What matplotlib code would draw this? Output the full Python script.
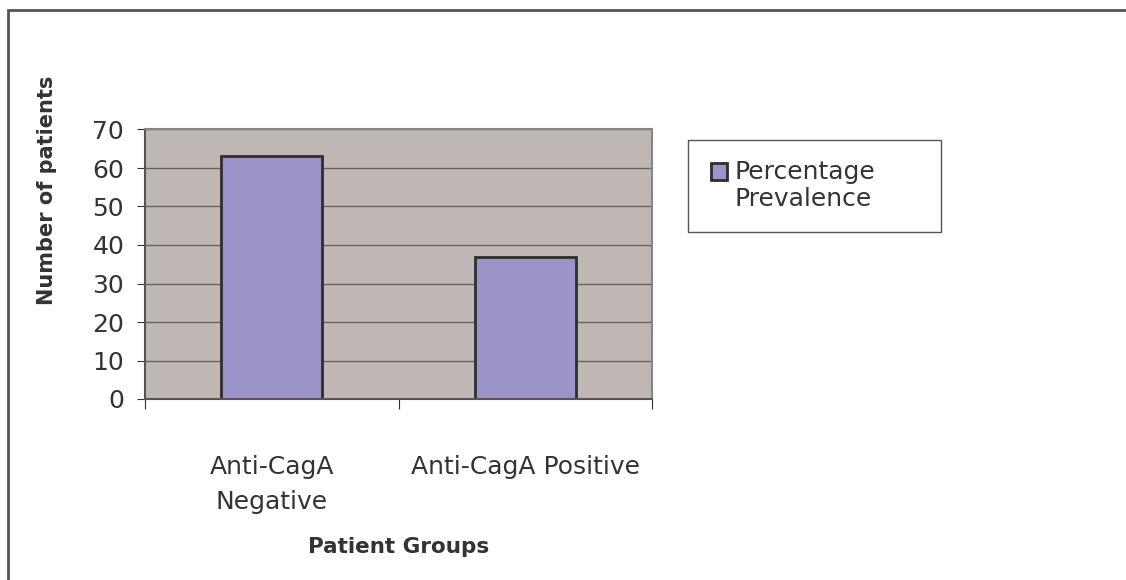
import matplotlib.pyplot as plt
from matplotlib.patches import Rectangle
from matplotlib.container import BarContainer
from matplotlib.legend_handler import HandlerPatch, update_from_first_child

categories = ['Anti-CagA\nNegative', 'Anti-CagA Positive']
prevalence = [63.2, 36.8]
series_name = 'Percentage\nPrevalence'
yticks = [0, 10, 20, 30, 40, 50, 60, 70]

plt.rcParams['font.family'] = 'DejaVu Sans'
W, H = 1126, 580


def first_line_patch(legend, orig_handle, xdescent, ydescent, width, height, fontsize):
    # keep the legend square next to the first line of a two-line label
    return Rectangle((-xdescent, -ydescent + 0.6 * fontsize), width, height)


fig = plt.figure(figsize=(W / 100, H / 100), dpi=100)
# outer chart border
fig.patches.append(Rectangle((8 / W, -0.1), 1.2, 1 - 10 / H + 0.1,
                             transform=fig.transFigure, fill=False,
                             edgecolor='#555555', linewidth=2))

ax = fig.add_axes([145 / W, 1 - 399 / H, (652 - 145) / W, (399 - 129.5) / H])
ax.set_facecolor('#C0B8B5')
ax.set_axisbelow(True)
ax.yaxis.grid(True, color='#6a6260', linewidth=1)

x = range(len(categories))
ax.bar(x, prevalence, width=0.4, color='#9A94C8', edgecolor='#2e2e2e',
       linewidth=2, label=series_name)

ax.set_xlim(-0.5, 1.5)
ax.set_ylim(0, 70)
ax.set_yticks(yticks)
ax.set_xticks([-0.5, 0.5, 1.5])
ax.set_xticklabels([])
ax.set_xticks([0, 1], minor=True)
ax.set_xticklabels(categories, minor=True, fontsize=18, color='#333333', linespacing=1.6)
ax.tick_params(axis='x', which='minor', length=0, pad=40)
ax.tick_params(axis='x', which='major', length=7, direction='out', color='#333333')
ax.tick_params(axis='y', length=6, direction='out', color='#333333',
               labelsize=18, labelcolor='#333333', pad=9)

for side in ['top', 'right']:
    ax.spines[side].set_color('#8c8483')
    ax.spines[side].set_linewidth(1.5)
for side in ['left', 'bottom']:
    ax.spines[side].set_color('#5a5252')
    ax.spines[side].set_linewidth(1.5)

ax.set_xlabel('Patient Groups', fontsize=15.5, fontweight='bold', color='#333333', va='center')
ax.xaxis.set_label_coords(0.5, (399 - 547) / (399 - 129.5))
ax.set_ylabel('Number of patients', fontsize=15, fontweight='bold', color='#333333', va='center')
ax.yaxis.set_label_coords((47 - 145) / (652 - 145), (399 - 190) / (399 - 129.5))

# legend box
fig.patches.append(Rectangle((688 / W, 1 - 232 / H), (941 - 688) / W, (232 - 140) / H,
                             transform=fig.transFigure, facecolor='white',
                             edgecolor='#555555', linewidth=1))
handler = HandlerPatch(patch_func=first_line_patch, update_func=update_from_first_child)
leg = fig.legend(loc='upper left', bbox_to_anchor=(711 / W, 1 - 160 / H),
                 fontsize=18, frameon=False, handlelength=0.65, handleheight=0.65,
                 handletextpad=0.3, borderpad=0, borderaxespad=0, labelspacing=0,
                 handler_map={BarContainer: handler})
for t in leg.get_texts():
    t.set_color('#333333')
    t.set_linespacing(1.17)

plt.savefig('out.png', dpi=100)
